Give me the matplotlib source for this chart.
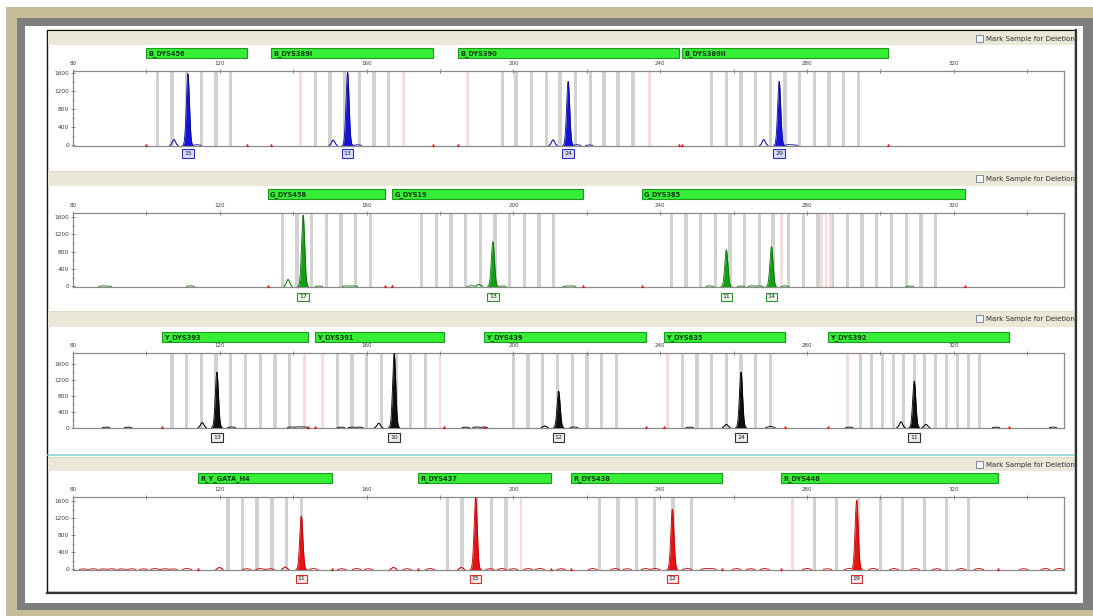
import numpy as np
import matplotlib
matplotlib.use("Agg")
import matplotlib.pyplot as plt
from matplotlib.patches import Rectangle
import matplotlib.transforms as mtransforms

# ---------------- data (bp / RFU) ----------------
XTICKS = [80, 120, 160, 200, 240, 280, 320]
XTICK_LABELS = ["80", "120", "160", "200", "240", "280", "320"]
YTICKS = [0, 400, 800, 1200, 1600]
YTICK_LABELS = ["0", "400", "800", "1200", "1600"]

# Panel 1 (blue)
P1_MARKERS = ["B_DYS456", "B_DYS389I", "B_DYS390", "B_DYS389II"]
P1_MSTART = [100, 134, 185, 246]
P1_MEND = [127.5, 178, 245, 302]
P1_PEAK_BP = [111.3, 154.8, 214.9, 272.4]
P1_PEAK_H = [1590, 1620, 1420, 1420]
P1_ALLELES = ["15", "13", "24", "29"]
P1_STUT_BP = [107.5, 150.9, 210.8, 268.2]
P1_STUT_H = [130, 120, 125, 130]
P1_NOISE_BP = [113.8, 157.5, 217.3, 220.6, 275, 276.5]
P1_NOISE_H = [18, 15, 18, 12, 18, 12]
P1_BINS = [103, 107, 111, 115, 119, 123,
           146, 150, 154, 158, 162, 166,
           197, 200.7, 205, 209, 212.7, 217, 220.9, 224.7, 228.5, 232.6,
           254, 258, 262, 266, 270, 274, 278, 282, 286, 290, 294]
P1_PINK = [142, 170, 187.5, 237]

# Panel 2 (green)
P2_MARKERS = ["G_DYS458", "G_DYS19", "G_DYS385"]
P2_MSTART = [133, 167, 235]
P2_MEND = [165, 219, 323]
P2_PEAK_BP = [142.7, 194.4, 258.0, 270.3]
P2_PEAK_H = [1640, 1030, 845, 915]
P2_ALLELES = ["17", "13", "11", "14"]
P2_STUT_BP = [138.6, 190.6]
P2_STUT_H = [160, 50]
P2_NOISE_BP = [88, 89.5, 112, 147, 154.5, 156.5, 188.5, 197, 214.5, 216,
               253.5, 262, 265, 267, 274, 308]
P2_NOISE_H = [14, 12, 15, 12, 15, 14, 18, 12, 12, 12, 15, 12, 16, 14, 15, 12]
P2_BINS = [137, 141, 145, 149, 153, 157, 161,
           175, 179, 183, 187, 191, 195, 199, 203, 207, 211,
           243, 247, 251, 255, 259, 263, 267, 270.7, 275, 279, 283, 287,
           291, 295, 299, 303, 307, 311, 315]
P2_PINK = [273, 284, 285.2, 286.4]

# Panel 3 (black)
P3_MARKERS = ["Y_DYS393", "Y_DYS391", "Y_DYS439", "Y_DYS635", "Y_DYS392"]
P3_MSTART = [104.3, 146, 192, 241, 285.7]
P3_MEND = [144, 181, 236, 274, 335]
P3_PEAK_BP = [119.2, 167.5, 212.3, 262.0, 309.2]
P3_PEAK_H = [1406, 1880, 926, 1406, 1180]
P3_ALLELES = ["13", "10", "12", "24", "11"]
P3_STUT_BP = [115.2, 163.3, 208.5, 258.0, 305.6, 312.4]
P3_STUT_H = [126, 110, 40, 80, 143, 80]
P3_NOISE_BP = [89, 95, 123.2, 139.5, 141.5, 143, 153, 156, 158, 187, 190, 192,
               216.5, 248, 270, 291.5, 331.5, 347]
P3_NOISE_H = [12, 12, 15, 15, 18, 15, 12, 12, 12, 12, 15, 12, 15, 12, 28, 12, 12, 12]
P3_BINS = [107, 111, 115, 119, 123, 127, 131, 135, 139,
           152, 156, 160, 164, 168, 172, 176,
           200, 204, 208, 212, 216, 220, 224, 228,
           246, 250, 254, 258, 262, 266, 270,
           294.5, 297.5, 300.5, 303.5, 306.3, 309.2, 312, 315, 318, 321, 324, 327]
P3_PINK = [143, 148, 180, 242, 291]

# Panel 4 (red)
P4_MARKERS = ["R_Y_GATA_H4", "R_DYS437", "R_DYS438", "R_DYS448"]
P4_MSTART = [114, 174, 215.7, 273]
P4_MEND = [150.6, 210.3, 256.8, 332]
P4_PEAK_BP = [142.2, 189.7, 243.3, 293.5]
P4_PEAK_H = [1257, 1690, 1413, 1623]
P4_ALLELES = ["11", "15", "12", "19"]
P4_STUT_BP = [137.8, 185.8, 119.9, 167.3]
P4_STUT_H = [60, 50, 50, 50]
P4_NOISE_BP = [82.8, 85.5, 88.3, 90.5, 93.3, 96, 99.2, 102.3, 105, 107.3, 111,
               127.3, 131, 133.7, 145.5, 153.2, 157.3, 160.5, 171, 177.3, 193.6,
               196.8, 200, 204, 207.2, 213, 221.6, 227.7, 231, 236, 238.6, 247.3,
               252.2, 254, 260.8, 264.6, 268.4, 280, 285.6, 291.4, 298, 303.7,
               309.4, 315.3, 322, 326.8, 339, 344.9, 348.7]
P4_NOISE_H = [14, 18, 14, 18, 14, 18, 14, 22, 18, 14, 26,
              18, 22, 18, 22, 18, 22, 18, 18, 22, 18,
              22, 18, 22, 26, 18, 22, 22, 18, 22, 26, 30,
              22, 26, 22, 18, 22, 26, 18, 22, 26, 22,
              22, 18, 22, 26, 18, 22, 26]
P4_BINS = [122.2, 126.1, 130.1, 134.2, 138.2, 142.2,
           182, 186, 190, 194, 198,
           223.5, 228.5, 233.5, 238.5, 243.5, 248.5,
           282, 288, 294, 300, 306, 312, 318, 324]
P4_PINK = [202, 276]

# ---------------- layout (pixels) ----------------
W, H = 1093, 616
AX_L, AX_R = 73, 1064
PANELS = [
    dict(top=71, bot=146, ytop=1650, header=(31, 45), bar=(48, 58), lab=153.5,
         col="#1414d8", edge="#0a0a90", stut="#6a6af0", boxfc="#d8dcff", boxec="#3030c0",
         markers=P1_MARKERS, ms=P1_MSTART, me=P1_MEND, pbp=P1_PEAK_BP, ph=P1_PEAK_H,
         al=P1_ALLELES, sbp=P1_STUT_BP, sh=P1_STUT_H, nbp=P1_NOISE_BP, nh=P1_NOISE_H,
         bins=P1_BINS, pink=P1_PINK),
    dict(top=213, bot=287, ytop=1690, header=(171, 186), bar=(189, 199), lab=297,
         col="#12a012", edge="#0a700a", stut="#60c060", boxfc="#eef6ee", boxec="#309030",
         markers=P2_MARKERS, ms=P2_MSTART, me=P2_MEND, pbp=P2_PEAK_BP, ph=P2_PEAK_H,
         al=P2_ALLELES, sbp=P2_STUT_BP, sh=P2_STUT_H, nbp=P2_NOISE_BP, nh=P2_NOISE_H,
         bins=P2_BINS, pink=P2_PINK),
    dict(top=353, bot=428, ytop=1890, header=(311, 327), bar=(332, 342), lab=437.5,
         col="#101010", edge="#000000", stut="#555555", boxfc="#eeeeee", boxec="#303030",
         markers=P3_MARKERS, ms=P3_MSTART, me=P3_MEND, pbp=P3_PEAK_BP, ph=P3_PEAK_H,
         al=P3_ALLELES, sbp=P3_STUT_BP, sh=P3_STUT_H, nbp=P3_NOISE_BP, nh=P3_NOISE_H,
         bins=P3_BINS, pink=P3_PINK),
    dict(top=497, bot=570, ytop=1700, header=(457, 471), bar=(473, 483), lab=579,
         col="#e51414", edge="#c00000", stut="#e86060", boxfc="#fde8e8", boxec="#d03030",
         markers=P4_MARKERS, ms=P4_MSTART, me=P4_MEND, pbp=P4_PEAK_BP, ph=P4_PEAK_H,
         al=P4_ALLELES, sbp=P4_STUT_BP, sh=P4_STUT_H, nbp=P4_NOISE_BP, nh=P4_NOISE_H,
         bins=P4_BINS, pink=P4_PINK),
]

fig = plt.figure(figsize=(W / 100, H / 100), dpi=100)
bg = fig.add_axes([0, 0, 1, 1], zorder=0)
bg.set_xlim(0, W)
bg.set_ylim(H, 0)
bg.axis("off")

# outer picture frame
bg.add_patch(Rectangle((0, 0), W, H, fc="white", ec="none"))
bg.add_patch(Rectangle((6, 7), W - 6, H - 7, fc="#c7bd99", ec="none"))
bg.add_patch(Rectangle((17, 18), W - 17, 592, fc="#7e7e7e", ec="none"))
bg.add_patch(Rectangle((25, 26), 1058, 577, fc="white", ec="none"))
# inner window frame
bg.add_patch(Rectangle((47, 30), 1028, 562, fc="white", ec="#111111", lw=1.0))
bg.plot([1076, 1076], [30, 593], color="#333333", lw=1.6)
bg.plot([47, 1076], [593, 593], color="#333333", lw=1.6)

clip_rect = Rectangle((48, 30), 1026, 562, transform=bg.transData, fc="none", ec="none")
bg.add_patch(clip_rect)

for p in PANELS:
    h0, h1 = p["header"]
    bg.add_patch(Rectangle((48, h0), 1026, h1 - h0, fc="#ebe8da", ec="none"))
    bg.plot([48, 1074], [h0, h0], color="#dcd8c6", lw=0.6)
    bg.add_patch(Rectangle((976, h0 + 4), 7, 7, fc="#f4f6fa", ec="#7a8898", lw=0.7))
    t = bg.text(986, h0 + 7.5, "Mark Sample for Deletion", fontsize=5, color="#303030",
                va="center", ha="left", family="DejaVu Sans")
    t.set_clip_path(clip_rect)

# teal selection line above panel 4
bg.plot([48, 1074], [454.5, 454.5], color="#8ed6d6", lw=1.2)

X = np.linspace(78, 352, 30000)


def bumps(pos, hts, sig):
    y = np.zeros_like(X)
    for c, hh in zip(pos, hts):
        y += hh * np.exp(-0.5 * ((X - c) / sig) ** 2)
    return y


for p in PANELS:
    fb = 1 - p["bot"] / H
    ft = 1 - p["top"] / H
    ax = fig.add_axes([AX_L / W, fb, (AX_R - AX_L) / W, ft - fb], zorder=2)
    ax.set_facecolor("white")
    ax.set_xlim(80, 350)
    ax.set_ylim(-12, p["ytop"])
    trans = mtransforms.blended_transform_factory(ax.transData, bg.transData)

    # bins
    for b in p["bins"]:
        ax.axvspan(b - 0.45, b + 0.45, color="#d2d2d2", lw=0, zorder=1)
    for b in p["pink"]:
        ax.axvspan(b - 0.35, b + 0.35, color="#f6dcdc", lw=0, zorder=1)

    main = bumps(p["pbp"], p["ph"], 0.42)
    stut = bumps(p["sbp"], p["sh"], 0.42)
    noise = bumps(p["nbp"], p["nh"], 0.6)
    total = main + stut + noise
    ax.fill_between(X, 0, main, color=p["col"], lw=0, zorder=3)
    ax.plot(X, np.where(stut > 4, stut, np.nan), color=p["stut"], lw=0.6, zorder=3)
    ax.plot(X, np.where(total > 3, total, np.nan), color=p["edge"], lw=0.6, zorder=4)

    # red marks at marker boundaries
    ends = list(p["ms"]) + list(p["me"])
    ax.plot(ends, [18] * len(ends), ls="none", marker="^", ms=2.0, color="#e02020",
            mec="#e02020", mew=0.3, zorder=5, clip_on=False)

    # marker bars
    b0, b1 = p["bar"]
    for name, s, e in zip(p["markers"], p["ms"], p["me"]):
        ax.add_patch(Rectangle((s, b0), e - s, b1 - b0, transform=trans, fc="#35ee35",
                               ec="#1d9a1d", lw=0.8, clip_on=False, zorder=5))
        ax.text(s + 0.6, (b0 + b1) / 2 + 0.3, name, transform=trans, fontsize=4.8,
                fontweight="bold", color="#0c3a0c", ha="left", va="center", clip_on=False,
                zorder=6)

    # allele labels
    for bp, lab in zip(p["pbp"], p["al"]):
        ax.text(bp, p["lab"], lab, transform=trans, fontsize=4.5, color="#202020",
                ha="center", va="center", clip_on=False, zorder=6,
                bbox=dict(boxstyle="square,pad=0.3", fc=p["boxfc"], ec=p["boxec"], lw=0.8))

    # axes styling
    ax.xaxis.tick_top()
    ax.set_xticks(XTICKS)
    ax.set_xticklabels(XTICK_LABELS)
    ax.set_xticks([100, 140, 180, 220, 260, 300, 340], minor=True)
    ax.set_yticks(YTICKS)
    ax.set_yticklabels(YTICK_LABELS)
    ax.set_yticks([200, 600, 1000, 1400] + ([1800] if p["ytop"] > 1800 else []), minor=True)
    ax.tick_params(axis="x", which="both", direction="inout", length=3, width=0.6,
                   color="#707070", labelsize=4, labelcolor="#404040", pad=2)
    ax.tick_params(axis="y", which="major", direction="inout", length=3.5, width=0.6,
                   color="#707070", labelsize=4.2, labelcolor="#404040", pad=1.2)
    ax.tick_params(axis="y", which="minor", direction="inout", length=2, width=0.5,
                   color="#707070")
    for sp in ax.spines.values():
        sp.set_color("#8a8a8a")
        sp.set_linewidth(0.9)

fig.savefig("out.png", dpi=100)
